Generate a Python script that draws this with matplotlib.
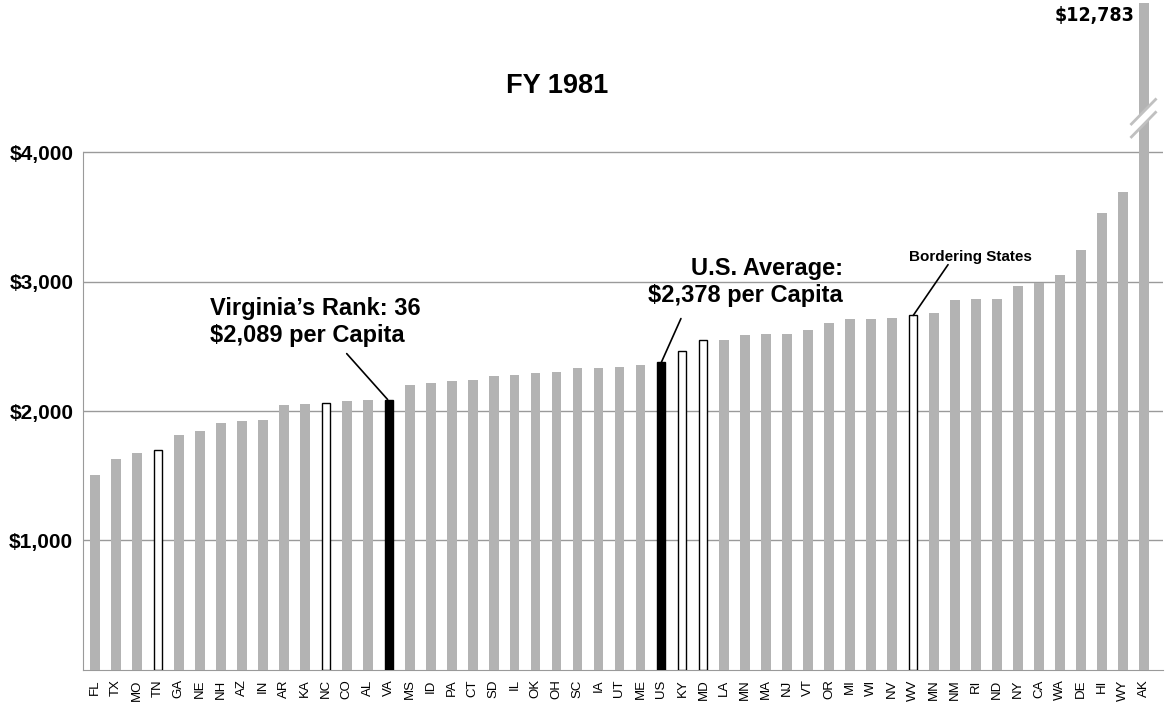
import numpy as np
import matplotlib
matplotlib.use("Agg")
import matplotlib.pyplot as plt

plt.rcParams['font.family'] = ['Liberation Sans', 'DejaVu Sans']

# per-capita amounts, FY 1981, sorted low to high
states = ["FL", "TX", "MO", "TN", "GA", "NE", "NH", "AZ", "IN", "AR",
          "KA", "NC", "CO", "AL", "VA", "MS", "ID", "PA", "CT", "SD",
          "IL", "OK", "OH", "SC", "IA", "UT", "ME", "US", "KY", "MD",
          "LA", "MN", "MA", "NJ", "VT", "OR", "MI", "WI", "NV", "WV",
          "MN", "NM", "RI", "ND", "NY", "CA", "WA", "DE", "HI", "WY", "AK"]
values = [1508, 1632, 1678, 1702, 1811, 1842, 1907, 1920, 1928, 2044,
          2054, 2062, 2075, 2083, 2089, 2200, 2215, 2231, 2241, 2272,
          2280, 2296, 2303, 2334, 2334, 2342, 2358, 2378, 2464, 2547,
          2552, 2589, 2599, 2599, 2630, 2682, 2713, 2713, 2721, 2739,
          2760, 2861, 2869, 2869, 2970, 2994, 3055, 3244, 3530, 3693, 12783]
highlight = ["VA", "US"]
bordering = ["TN", "NC", "KY", "MD", "WV"]
yticks = [1000, 2000, 3000, 4000]
ytick_labels = ["$1,000", "$2,000", "$3,000", "$4,000"]

GRAY = "#b3b3b3"
LINE = "#9a9a9a"

fig = plt.figure(figsize=(11.65, 7.09), dpi=100)
ax = fig.add_axes([0.0712, 0.0556, 0.927, 0.940])

x = np.arange(len(states))
for i, (s, v) in enumerate(zip(states, values)):
    if s in highlight:
        ax.bar(i, v, width=0.38, color="black", edgecolor="black", linewidth=1, zorder=3)
    elif s in bordering:
        ax.bar(i, v, width=0.38, color="white", edgecolor="black", linewidth=1, zorder=3)
    else:
        ax.bar(i, v, width=0.47, color=GRAY, linewidth=0, zorder=3)

ax.set_xlim(-0.57, len(states) - 0.1)
ax.set_ylim(0, 5155)
ax.set_xticks(x)
ax.set_xticklabels(states, rotation=90, fontsize=9.5)
ax.set_yticks(yticks)
ax.set_yticklabels(ytick_labels, fontsize=15, fontweight="bold")
ax.tick_params(length=0)
ax.tick_params(axis="y", pad=7)
ax.tick_params(axis="x", pad=7)

ax.grid(axis="y", color=LINE, linewidth=1)
ax.set_axisbelow(True)
for sp in ["top", "right"]:
    ax.spines[sp].set_visible(False)
ax.spines["left"].set_color(LINE)
ax.spines["left"].set_bounds(0, 4000)
ax.spines["bottom"].set_color(LINE)

# axis break on Alaska's bar
ak = states.index("AK")
brk = 4265
xs = np.array([ak - 0.6, ak + 0.55])
lo = np.array([brk - 145, brk + 45])
hi = np.array([brk - 45, brk + 145])
ax.fill_between(xs, lo, hi, color="white", zorder=4, linewidth=0)
ax.plot(xs, lo, color="#c0c0c0", linewidth=2, zorder=5)
ax.plot(xs, hi, color="#c0c0c0", linewidth=2, zorder=5)
ax.text(ak - 0.43, 5135, "$12,783", ha="right", va="top", fontsize=14,
        fontweight="bold", family="DejaVu Sans", fontstretch="condensed")

# annotations
va_i = states.index("VA")
ax.text(5.48, 2885, "Virginia\u2019s Rank: 36\n$2,089 per Capita", ha="left", va="top",
        fontsize=17, fontweight="bold", linespacing=1.25)
ax.annotate("", xy=(va_i - 0.05, values[va_i]), xytext=(12.0, 2444),
            arrowprops=dict(arrowstyle="-", color="black", lw=1.2, shrinkA=0, shrinkB=0))

us_i = states.index("US")
ax.text(35.65, 3194, "U.S. Average:\n$2,378 per Capita", ha="right", va="top",
        fontsize=17, fontweight="bold", linespacing=1.25, multialignment="right")
ax.annotate("", xy=(us_i, values[us_i]), xytext=(27.93, 2715),
            arrowprops=dict(arrowstyle="-", color="black", lw=1.2, shrinkA=0, shrinkB=0))

wv_i = states.index("WV")
ax.text(38.8, 3248, "Bordering States", ha="left", va="top", fontsize=11, fontweight="bold")
ax.annotate("", xy=(wv_i, values[wv_i]), xytext=(40.66, 3132),
            arrowprops=dict(arrowstyle="-", color="black", lw=1.2, shrinkA=0, shrinkB=0))

fig.text(0.478, 0.897, "FY 1981", ha="center", va="top", fontsize=19.5, fontweight="bold")

fig.savefig("out.png", dpi=100)
